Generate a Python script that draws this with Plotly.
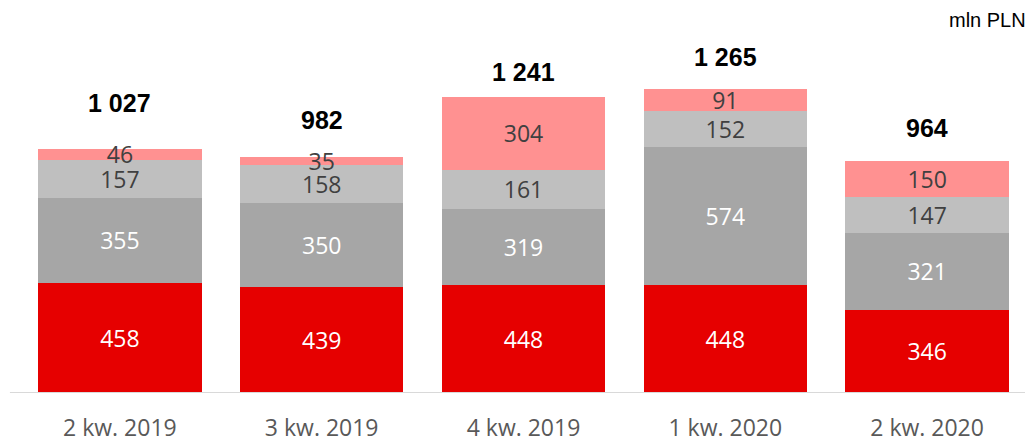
import plotly.graph_objects as go

categories = ["2 kw. 2019", "3 kw. 2019", "4 kw. 2019", "1 kw. 2020", "2 kw. 2020"]
s1 = [458, 439, 448, 448, 346]
s2 = [355, 350, 319, 574, 321]
s3 = [157, 158, 161, 152, 147]
s4 = [46, 35, 304, 91, 150]
total_labels = ["1 027", "982", "1 241", "1 265", "964"]
label_shift = [46, 37, 25, 32, 33]

colors = ["#E60000", "#A6A6A6", "#BFBFBF", "#FF9191"]
text_colors = ["white", "white", "#404040", "#404040"]

fig = go.Figure()
for vals, c, tc in zip([s1, s2, s3, s4], colors, text_colors):
    fig.add_trace(go.Bar(
        x=categories, y=vals, marker=dict(color=c, line=dict(width=0)),
        text=[str(v) for v in vals], textposition="inside", textangle=0,
        insidetextanchor="middle", constraintext="none",
        textfont=dict(family="Open Sans", size=23, color=tc),
        hoverinfo="skip", showlegend=False))

tops = [a + b + c + d for a, b, c, d in zip(s1, s2, s3, s4)]
for cat, top, lab, sh in zip(categories, tops, total_labels, label_shift):
    fig.add_annotation(x=cat, y=top, text="<b>" + lab + "</b>", showarrow=False,
                       yanchor="middle", yshift=sh,
                       font=dict(family="Arial", size=25, color="black"))

fig.add_annotation(xref="paper", yref="paper", x=1.0, y=1.0, xanchor="right", yanchor="middle",
                   text="mln PLN", showarrow=False,
                   font=dict(family="Arial", size=20, color="black"))

fig.add_shape(type="line", xref="paper", yref="y", x0=-0.009, x1=1.01, y0=0, y1=0,
              line=dict(color="#D9D9D9", width=2))

# page body has an 8px margin, so the figure is sized/placed to compensate
fig.update_layout(
    barmode="stack", bargap=0.19,
    width=1025, height=431,
    margin=dict(l=11, r=5, t=12, b=46, autoexpand=False),
    plot_bgcolor="white", paper_bgcolor="white",
    uniformtext=dict(minsize=23, mode="show"),
    xaxis=dict(showline=False, showgrid=False, ticks="", ticklabelstandoff=19, automargin=False,
               tickfont=dict(family="Open Sans", size=23, color="#595959")),
    yaxis=dict(visible=False, range=[0, 1552], automargin=False),
)

fig.write_html("out.html")
